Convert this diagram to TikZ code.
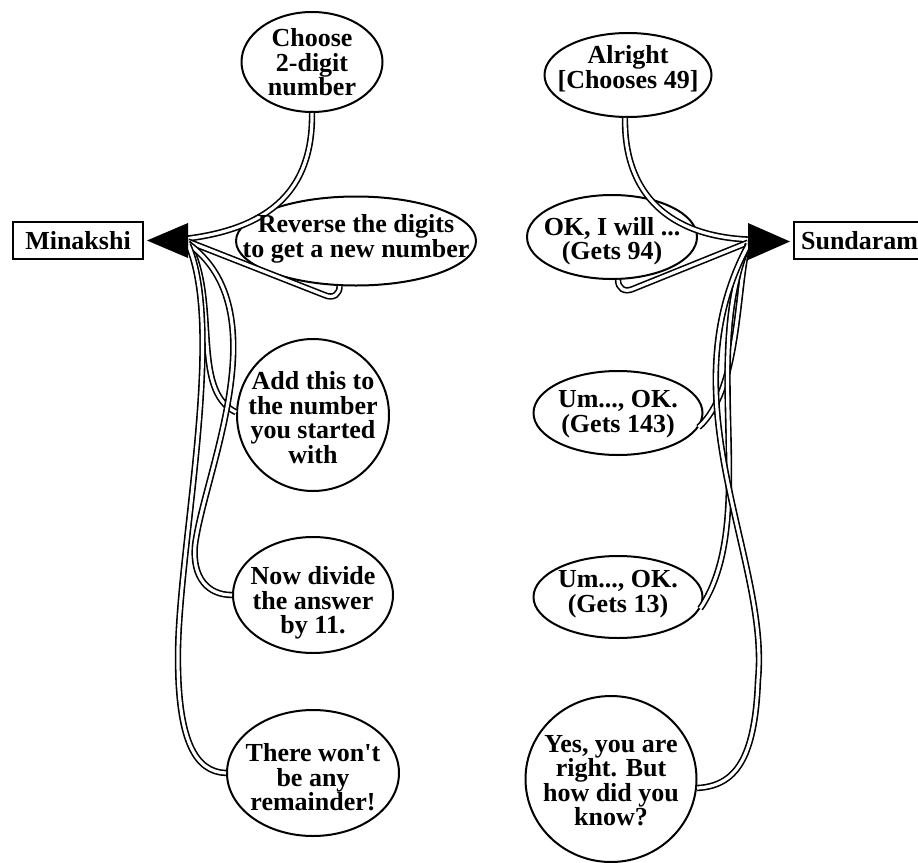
\documentclass[tikz,border=0pt]{standalone}
\usepackage{fontspec}
\setmainfont{Liberation Serif}
\usetikzlibrary{shapes.geometric,calc}
\begin{document}
\begin{tikzpicture}[x=1pt,y=-1pt,
  txt/.style={font=\fontsize{26}{24.5}\selectfont\bfseries},
  bub/.style={ellipse,draw,line width=2pt,fill=white,inner sep=0pt},
  btxt/.style={inner sep=0pt,align=center,txt},
  namebox/.style={draw,line width=2.2pt,fill=white,inner ysep=0pt,inner xsep=7pt,minimum height=37pt,txt},
  conn/.style={draw=black,line width=1.6pt,double=white,double distance=3.2pt},
  tip/.style={fill=black}]
\useasboundingbox (0,0) rectangle (918,862);

% people
\node[namebox,minimum width=130pt,inner xsep=0pt] (mina) at (78,240.5) {Minakshi};
\node[namebox,anchor=west] (sund) at (793,240.5) {Sundaram};

% arrow base points
\coordinate (la) at (188,240.5);
\coordinate (lt) at (147,240.5);
\coordinate (ra) at (748,241.5);
\coordinate (rt) at (790,241.5);

% bubble outlines
\node[bub,minimum width=141pt,minimum height=100pt] (choose) at (312,62) {};
\node[bub,minimum width=240pt,minimum height=89pt] (rev) at (356,241) {};
\node[bub,minimum width=152pt,minimum height=152pt] (add) at (313,415) {};
\node[bub,minimum width=160pt,minimum height=116pt] (divide) at (313,595) {};
\node[bub,minimum width=172pt,minimum height=126pt] (rem) at (313,773) {};
\node[bub,minimum width=167pt,minimum height=84pt] (alright) at (628,75) {};
\node[bub,minimum width=170pt,minimum height=84pt] (okw) at (612,237) {};
\node[bub,minimum width=169pt,minimum height=84pt] (um1) at (618,413) {};
\node[bub,minimum width=169pt,minimum height=82pt] (um2) at (618,597) {};
\node[bub,minimum width=171pt,minimum height=166pt] (yes) at (611,779) {};

% left connectors
\draw[conn] (choose.south) .. controls (313,190) and (270,228) .. ($(la)+(0,-2)$);
\draw[conn] (rev.250) .. controls +(0,8) and +(9,4) .. ++(-15,9) -- ($(la)+(0,1)$);
\draw[conn] ($(la)+(0,2)$) .. controls (220,300) and (190,390) .. (add.178);
\draw[conn] ($(la)+(0,3)$) .. controls (280,310) and (205,470) .. (195,545) .. controls (192,578) and (208,595) .. (divide.180);
\draw[conn] ($(la)+(0,4)$) .. controls (225,330) and (180,540) .. (178,650) .. controls (177,740) and (195,772) .. (rem.180);

% right connectors
\draw[conn] (alright.266) .. controls (624,195) and (670,236) .. ($(ra)+(0,-2)$);
\draw[conn] (okw.278) .. controls +(0,8) and +(-9,4) .. ++(15,9) -- ($(ra)+(0,1)$);
\draw[conn] ($(ra)+(0,2)$) .. controls (736,290) and (740,390) .. (um1.350);
\draw[conn] ($(ra)+(0,3)$) .. controls (700,360) and (760,520) .. (um2.352);
\draw[conn] ($(ra)+(0,4)$) .. controls (665,400) and (770,560) .. (758,680) .. controls (755,760) and (735,786) .. (yes.354);

% bubble texts
\node[btxt] (choose-t) at (312,62.5) {Choose\\2-digit\\number};
\node[btxt] (rev-t) at (356,239) {Reverse the digits\\to get a new number};
\node[btxt] (add-t) at (313,417.5) {Add this to\\the number\\you started\\with};
\node[btxt] (divide-t) at (313,603) {Now divide\\the answer\\by 11.};
\node[btxt] (rem-t) at (313,777.5) {There won\textquotesingle t\\be any\\remainder!};
\node[btxt] (alright-t) at (628,68.5) {Alright\\{[}Chooses 49{]}};
\node[btxt] (okw-t) at (612,241) {OK, I will ...\\(Gets 94)};
\node[btxt] (um1-t) at (618,414) {Um..., OK.\\(Gets 143)};
\node[btxt] (um2-t) at (618,594) {Um..., OK.\\(Gets 13)};
\node[btxt] (yes-t) at (611,780.5) {Yes, you are\\right. But\\how did you\\know?};

% arrowheads
\fill[tip] (lt) -- ($(la)+(0,-17.5)$) -- ($(la)+(0,17.5)$) -- cycle;
\fill[tip] (rt) -- ($(ra)+(0,-18.5)$) -- ($(ra)+(0,18.5)$) -- cycle;
\end{tikzpicture}
\end{document}
